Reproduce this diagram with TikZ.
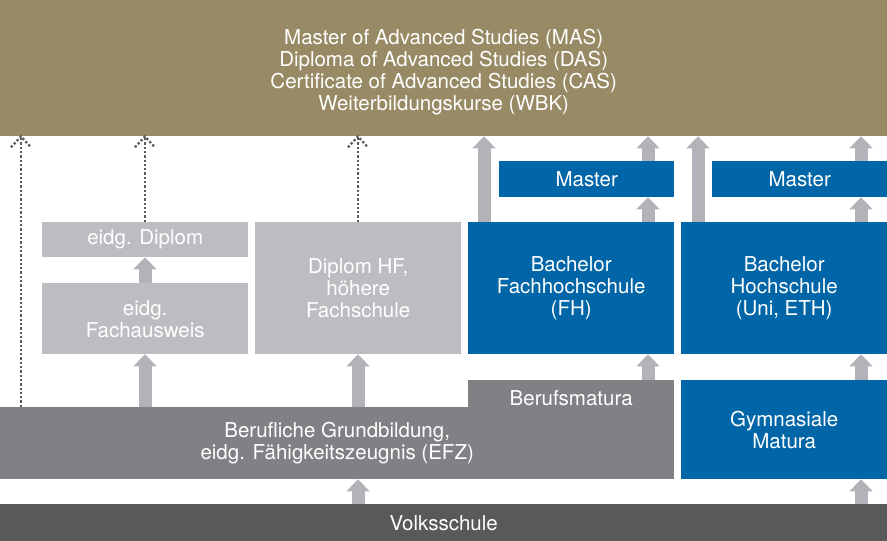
\documentclass[tikz,border=0pt]{standalone}
\usepackage{fontspec}
\setmainfont{TeX Gyre Heros}
\usetikzlibrary{arrows.meta,calc}
\definecolor{bandcol}{HTML}{978A64}
\definecolor{lightbox}{HTML}{BCBDC1}
\definecolor{bluebox}{HTML}{0066A8}
\definecolor{midbox}{HTML}{808185}
\definecolor{darkbox}{HTML}{58595B}
\definecolor{arrowcol}{HTML}{B2B3B8}
\definecolor{dotcol}{HTML}{5A5A5A}
\begin{document}
\begin{tikzpicture}[x=1pt,y=-1pt,
  box/.style={draw=none, inner sep=0pt, text=white, align=center,
    font=\fontsize{20.5}{22}\selectfont, anchor=north west},
  bigarrow/.style={draw=arrowcol, line width=13pt, -{Triangle[width=23pt,length=12pt]}},
  dotline/.style={draw=dotcol, line width=2.3pt, dash pattern=on 2.3pt off 2pt}]
\useasboundingbox (0,0) rectangle (887,541);
% boxes
\node[box, fill=bandcol, minimum width=887pt, minimum height=136pt] (adv) at (0,0)
  {\rule{0pt}{23pt}Master of Advanced Studies (MAS)\\Diploma of Advanced Studies (DAS)\\Certificate of Advanced Studies (CAS)\\Weiterbildungskurse (WBK)};
\node[box, fill=lightbox, minimum width=206pt, minimum height=35pt] (dipl) at (42,222) {eidg. Diplom};
\node[box, fill=lightbox, minimum width=206pt, minimum height=71pt] (fach) at (42,283) {eidg.\\Fachausweis};
\node[box, fill=lightbox, minimum width=206pt, minimum height=132pt] (hf) at (255,222) {Diplom HF,\\höhere\\Fachschule};
\node[box, fill=bluebox, minimum width=206pt, minimum height=132pt] (bfh) at (468,222) {Bachelor\\Fachhochschule\\(FH)};
\node[box, fill=bluebox, minimum width=175pt, minimum height=36pt] (mfh) at (499,161) {Master};
\node[box, fill=bluebox, minimum width=206pt, minimum height=132pt] (buh) at (681,222) {Bachelor\\Hochschule\\(Uni, ETH)};
\node[box, fill=bluebox, minimum width=175pt, minimum height=36pt] (muh) at (712,161) {Master};
\node[box, fill=midbox, minimum width=674pt, minimum height=72pt] (berufl) at (0,407) {Berufliche Grundbildung,\\eidg. Fähigkeitszeugnis (EFZ)};
\node[box, fill=midbox, minimum width=206pt, minimum height=35pt] (bm) at (468,380) {Berufsmatura};
\node[box, fill=bluebox, minimum width=206pt, minimum height=99pt] (gym) at (681,380) {Gymnasiale\\Matura};
\node[box, fill=darkbox, minimum width=887pt, minimum height=37pt] (volk) at (0,504) {Volksschule};
% column coordinates
\coordinate (c1) at (21,0);
\coordinate (c2) at (145,0);
\coordinate (c3) at (358,0);
\coordinate (c4) at (484,0);
\coordinate (c5) at (648,0);
\coordinate (c6) at (698,0);
\coordinate (c7) at (861,0);
% solid arrows
\draw[bigarrow] (c2|-berufl.north) -- (c2|-fach.south);
\draw[bigarrow] (c2|-fach.north) -- (c2|-dipl.south);
\draw[bigarrow] (c3|-volk.north) -- (c3|-berufl.south);
\draw[bigarrow] (c3|-berufl.north) -- (c3|-hf.south);
\draw[bigarrow] (c5|-bm.north) -- (c5|-bfh.south);
\draw[bigarrow] (c5|-bfh.north) -- (c5|-mfh.south);
\draw[bigarrow] (c5|-mfh.north) -- (c5|-adv.south);
\draw[bigarrow] (c4|-bfh.north) -- (c4|-adv.south);
\draw[bigarrow] (c6|-buh.north) -- (c6|-adv.south);
\draw[bigarrow] (c7|-volk.north) -- (c7|-gym.south);
\draw[bigarrow] (c7|-gym.north) -- (c7|-buh.south);
\draw[bigarrow] (c7|-buh.north) -- (c7|-muh.south);
\draw[bigarrow] (c7|-muh.north) -- (c7|-adv.south);
% dotted arrows
\foreach \c/\b in {c1/berufl, c2/dipl, c3/hf}{
  \draw[dotline] (\c|-\b.north) -- (\c|-adv.south);
  \draw[dotline] ($(\c|-adv.south)+(-10,11)$) -- (\c|-adv.south) -- ++(10,11);
}
\end{tikzpicture}
\end{document}
